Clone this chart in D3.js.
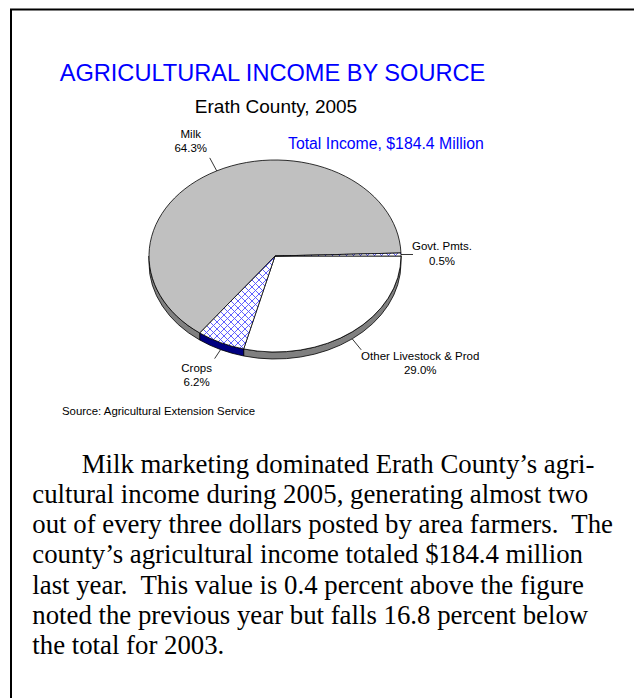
<!DOCTYPE html>
<html>
<head>
<meta charset="utf-8">
<script src="https://cdn.jsdelivr.net/npm/d3@7"></script>
<style>
  html, body { margin: 0; padding: 0; background: #fff; }
  svg { display: block; }
</style>
</head>
<body>
<svg id="chart" width="634" height="698"></svg>
<script>
// ---- data ----
const categories = ["Other Livestock & Prod", "Crops", "Milk", "Govt. Pmts."];
const shares = [29.0, 6.2, 64.3, 0.5];          // percent of total income
const totalIncome = 184.4;                        // $ million
const title = "AGRICULTURAL INCOME BY SOURCE";
const subtitle = "Erath County, 2005";
const source = "Source: Agricultural Extension Service";
const paragraphLines = [
  "Milk marketing dominated Erath County\u2019s agri-",
  "cultural income during 2005, generating almost two",
  "out of every three dollars posted by area farmers.  The",
  "county\u2019s agricultural income totaled $184.4 million",
  "last year.  This value is 0.4 percent above the figure",
  "noted the previous year but falls 16.8 percent below",
  "the total for 2003."
];

// ---- styles / layout ----
const topFill = {"Other Livestock & Prod": "#FFFFFF", "Crops": "url(#hatch)", "Milk": "#C0C0C0", "Govt. Pmts.": "url(#hatch)"};
const sideFill = {"Other Livestock & Prod": "#808080", "Crops": "#000080", "Milk": "#808080", "Govt. Pmts.": "#000080"};
const labelLayout = {
  "Milk":                   {dx: -7, dy: -13, tx: -26, ty: -33, anchor: "middle", side: false},
  "Other Livestock & Prod": {dx: 9,  dy: 11,  tx: 68,  ty: 21,  anchor: "middle", side: true},
  "Crops":                  {dx: -6, dy: 9,   tx: -24, ty: 22,  anchor: "middle", side: true},
  "Govt. Pmts.":            {dx: 12, dy: 0,   tx: 41,  ty: -4,  anchor: "middle", side: false}
};

const svg = d3.select("#chart");
const defs = svg.append("defs");
const P = 7;
const pat = defs.append("pattern").attr("id", "hatch")
  .attr("patternUnits", "userSpaceOnUse").attr("width", P).attr("height", P);
pat.append("rect").attr("width", P).attr("height", P).attr("fill", "#fff");
pat.append("path").attr("d", `M0,0L${P},${P}M${P},0L0,${P}M-1,${P-1}L1,${P+1}M${P-1},-1L${P+1},1M-1,1L1,-1M${P-1},${P+1}L${P+1},${P-1}`)
  .attr("stroke", "#5050FF").attr("stroke-width", 0.9).attr("fill", "none");

// frame
svg.append("rect").attr("x", 11).attr("y", 9.5).attr("width", 700).attr("height", 800)
  .attr("fill", "none").attr("stroke", "#000").attr("stroke-width", 2);

// titles
svg.append("text").attr("x", 272.5).attr("y", 80.5).attr("text-anchor", "middle")
  .attr("font-family", "Liberation Sans, Arial, sans-serif").attr("font-size", 23.6)
  .attr("fill", "#0000FF").text(title);
svg.append("text").attr("x", 276).attr("y", 112.5).attr("text-anchor", "middle")
  .attr("font-family", "Liberation Sans, Arial, sans-serif").attr("font-size", 19)
  .attr("fill", "#000").text(subtitle);
svg.append("text").attr("x", 288).attr("y", 149).attr("text-anchor", "start")
  .attr("font-family", "Liberation Sans, Arial, sans-serif").attr("font-size", 15.8)
  .attr("fill", "#0000FF").text(`Total Income, $${totalIncome.toFixed(1)} Million`);

// ---- 3D pie ----
const cx = 275, cy = 256, rx = 126, ry = 96, depth = 7;
const pie = d3.pie().sort(null).value(d => d.v)
  .startAngle(Math.PI / 2).endAngle(Math.PI / 2 + 2 * Math.PI);
const arcs = pie(categories.map((c, i) => ({c, v: shares[i]})));

const pt = (a, dz = 0) => [cx + rx * Math.sin(a), cy - ry * Math.cos(a) + dz];

function topPath(d) {
  const [x0, y0] = pt(d.startAngle), [x1, y1] = pt(d.endAngle);
  const large = (d.endAngle - d.startAngle) > Math.PI ? 1 : 0;
  return `M${cx},${cy}L${x0},${y0}A${rx},${ry} 0 ${large} 1 ${x1},${y1}Z`;
}
function sidePath(a0, a1) {
  const [x0, y0] = pt(a0), [x1, y1] = pt(a1);
  const [x2, y2] = pt(a1, depth), [x3, y3] = pt(a0, depth);
  return `M${x0},${y0}A${rx},${ry} 0 0 1 ${x1},${y1}L${x2},${y2}A${rx},${ry} 0 0 0 ${x3},${y3}Z`;
}
// visible front region: angles in [PI/2, 3PI/2] (mod 2PI)
const sideG = svg.append("g");
arcs.forEach(d => {
  for (let k = -1; k <= 1; k++) {
    const lo = Math.PI / 2 + 2 * Math.PI * k, hi = 3 * Math.PI / 2 + 2 * Math.PI * k;
    const s = Math.max(d.startAngle, lo), e = Math.min(d.endAngle, hi);
    if (e > s + 1e-6) {
      sideG.append("path").attr("d", sidePath(s, e))
        .attr("fill", sideFill[d.data.c]).attr("stroke", "#000").attr("stroke-width", 0.8);
    }
  }
});
svg.append("g").selectAll("path").data(arcs).join("path")
  .attr("d", topPath)
  .attr("fill", d => topFill[d.data.c])
  .attr("stroke", "#000").attr("stroke-width", 0.8).attr("stroke-linejoin", "round");

// labels with leaders
const lg = svg.append("g").attr("font-family", "Liberation Sans, Arial, sans-serif").attr("font-size", 11.5).attr("fill", "#000");
arcs.forEach(d => {
  const L = labelLayout[d.data.c];
  const mid = (d.startAngle + d.endAngle) / 2;
  const [px, py] = pt(mid, L.side ? depth : 0);
  lg.append("line").attr("x1", px).attr("y1", py).attr("x2", px + L.dx).attr("y2", py + L.dy)
    .attr("stroke", "#000").attr("stroke-width", 0.8);
  const t = lg.append("text").attr("text-anchor", L.anchor)
    .attr("x", px + L.tx).attr("y", py + L.ty);
  t.append("tspan").attr("x", px + L.tx).attr("dy", 0).text(d.data.c);
  t.append("tspan").attr("x", px + L.tx).attr("dy", 14.5).text(d.data.v.toFixed(1) + "%");
});

svg.append("text").attr("x", 62).attr("y", 415)
  .attr("font-family", "Liberation Sans, Arial, sans-serif").attr("font-size", 11.4)
  .attr("fill", "#000").text(source);

// paragraph
const para = svg.append("text").attr("font-family", "Liberation Serif, 'Times New Roman', serif")
  .attr("font-size", 26.8).attr("fill", "#000");
paragraphLines.forEach((line, i) => {
  para.append("tspan").attr("x", i === 0 ? 81.7 : 32.3).attr("y", 472.7 + i * 30.2)
    .attr("xml:space", "preserve").style("white-space", "pre").text(line);
});
</script>
</body>
</html>
